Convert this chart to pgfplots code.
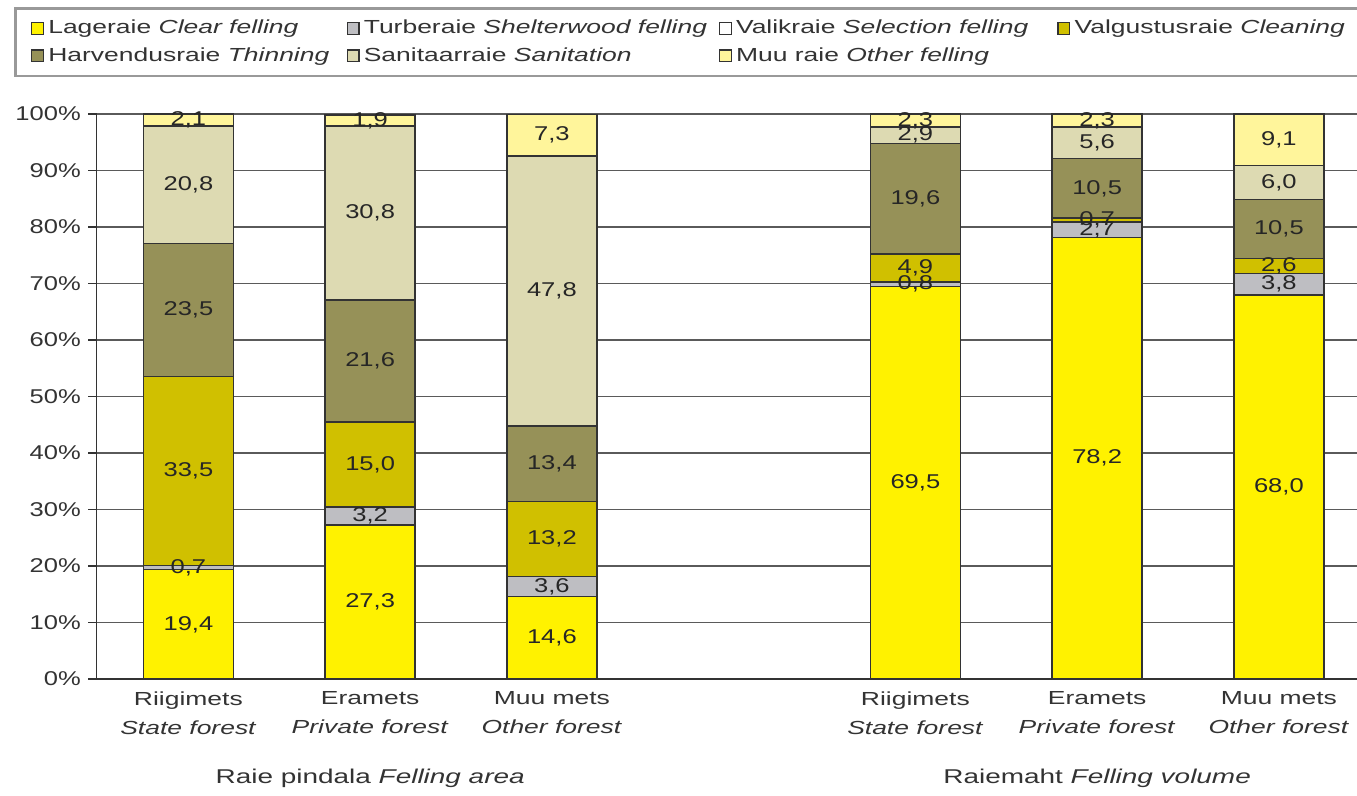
\documentclass[border=0pt]{standalone}
\usepackage{fontspec}
\setmainfont{Liberation Sans}[FakeStretch=1.4]
\newfontfamily\numfont{Liberation Sans}[FakeStretch=1.28]
\usepackage{pgfplots}
\pgfplotsset{compat=1.18}
\definecolor{clear}{HTML}{FFF200}
\definecolor{shelter}{HTML}{BEBEC2}
\definecolor{selectc}{HTML}{FFFFFF}
\definecolor{clean}{HTML}{D0C000}
\definecolor{thin}{HTML}{969158}
\definecolor{sanit}{HTML}{DDDAB2}
\definecolor{other}{HTML}{FFF59B}
\definecolor{edge}{HTML}{333333}
\definecolor{gridc}{HTML}{5A5A5A}

\begin{document}
\begin{tikzpicture}
\begin{axis}[
  name=ax,
  scale only axis, width=600pt, height=269pt,
  xmin=-0.505, xmax=6.43, ymin=0, ymax=100,
  ybar stacked, bar width=0.495,
  clip=false,
  axis lines*=left, axis line style={edge, line width=0.8pt, -},
  ymajorgrids, grid style={gridc, line width=0.8pt},
  tick align=outside, major tick length=4pt,
  ytick={0,10,...,100},
  yticklabels={0\%,10\%,20\%,30\%,40\%,50\%,60\%,70\%,80\%,90\%,100\%},
  yticklabel style={font=\numfont\fontsize{9.5}{11}\selectfont, text=edge},
  ytick style={edge, line width=0.8pt},
  xtick={0,1,2,4,5,6},
  xtick style={draw=none},
  xticklabels={{Riigimets\\\textit{State forest}},{Eramets\\\textit{Private forest}},{Muu mets\\\textit{Other forest}},{Riigimets\\\textit{State forest}},{Eramets\\\textit{Private forest}},{Muu mets\\\textit{Other forest}}},
  xticklabel style={align=center, font=\fontsize{9}{13.8}\selectfont, text=edge, yshift=1.5pt},
  legend columns=4,
  legend cell align=left,
  legend style={at={(-0.0655,1.0655)}, anchor=south west, draw=gray!80, line width=1.2pt,
    font=\fontsize{9}{10}\selectfont, text=edge, row sep=1pt, inner xsep=7.5pt, inner ysep=3.5pt},
  legend image code/.code={\draw[#1, draw=edge, line width=0.6pt] (0pt,-2.8pt) rectangle (5.6pt,2.8pt);},
]
\addplot[fill=clear, draw=edge, line width=0.7pt] coordinates {(0,19.4) (1,27.3) (2,14.6) (4,69.5) (5,78.2) (6,68.0)};
\addlegendentry{\makebox[140pt][l]{Lageraie \textit{Clear felling}}}
\addplot[fill=shelter, draw=edge, line width=0.7pt] coordinates {(0,0.7) (1,3.2) (2,3.6) (4,0.8) (5,2.7) (6,3.8)};
\addlegendentry{\makebox[167pt][l]{Turberaie \textit{Shelterwood felling}}}
\addplot[fill=selectc, draw=edge, line width=0.7pt] coordinates {(0,0) (1,0) (2,0) (4,0) (5,0) (6,0)};
\addlegendentry{\makebox[151pt][l]{Valikraie \textit{Selection felling}}}
\addplot[fill=clean, draw=edge, line width=0.7pt] coordinates {(0,33.5) (1,15.0) (2,13.2) (4,4.9) (5,0.7) (6,2.6)};
\addlegendentry{\makebox[140pt][l]{Valgustusraie \textit{Cleaning}}}
\addplot[fill=thin, draw=edge, line width=0.7pt] coordinates {(0,23.5) (1,21.6) (2,13.4) (4,19.6) (5,10.5) (6,10.5)};
\addlegendentry{\makebox[140pt][l]{Harvendusraie \textit{Thinning}}}
\addplot[fill=sanit, draw=edge, line width=0.7pt] coordinates {(0,20.8) (1,30.8) (2,47.8) (4,2.9) (5,5.6) (6,6.0)};
\addlegendentry{\makebox[167pt][l]{Sanitaarraie \textit{Sanitation}}}
\addplot[fill=other, draw=edge, line width=0.7pt] coordinates {(0,2.1) (1,1.9) (2,7.3) (4,2.3) (5,2.3) (6,9.1)};
\addlegendentry{\makebox[151pt][l]{Muu raie \textit{Other felling}}}
\node[font=\fontsize{9.5}{11}\selectfont, text=edge] at (axis cs:1,0) [yshift=-47pt] {Raie pindala \textit{Felling area}};
\node[font=\fontsize{9.5}{11}\selectfont, text=edge] at (axis cs:5,0) [yshift=-47pt] {Raiemaht \textit{Felling volume}};
\end{axis}
\begin{axis}[
  scale only axis, width=600pt, height=269pt,
  at={(ax.south west)}, anchor=south west,
  xmin=-0.505, xmax=6.43, ymin=0, ymax=100,
  hide axis, clip=false,
]
\addplot[only marks, mark=none, nodes near coords, point meta=explicit symbolic,
  nodes near coords style={anchor=center, inner sep=0pt, text=black!85, font=\numfont\fontsize{9.5}{11}\selectfont}]
  table[meta=lab] {
x y lab
0 9.7 19,4
0 19.75 0,7
0 36.85 33,5
0 65.35 23,5
0 87.5 20,8
0 98.95 2,1
1 13.65 27,3
1 28.9 3,2
1 38.0 15,0
1 56.3 21,6
1 82.5 30,8
1 98.85 1,9
2 7.3 14,6
2 16.4 3,6
2 24.8 13,2
2 38.1 13,4
2 68.7 47,8
2 96.25 7,3
4 34.75 69,5
4 69.9 0,8
4 72.75 4,9
4 85.0 19,6
4 96.25 2,9
4 98.85 2,3
5 39.1 78,2
5 79.55 2,7
5 81.25 0,7
5 86.85 10,5
5 94.9 5,6
5 98.85 2,3
6 34.0 68,0
6 69.9 3,8
6 73.1 2,6
6 79.65 10,5
6 87.9 6,0
6 95.45 9,1
};
\end{axis}
\pgfresetboundingbox
\useasboundingbox ([shift={(-46pt,-55.2pt)}]ax.south west) rectangle ([shift={(0pt,54.3pt)}]ax.north east);
\end{tikzpicture}
\end{document}
